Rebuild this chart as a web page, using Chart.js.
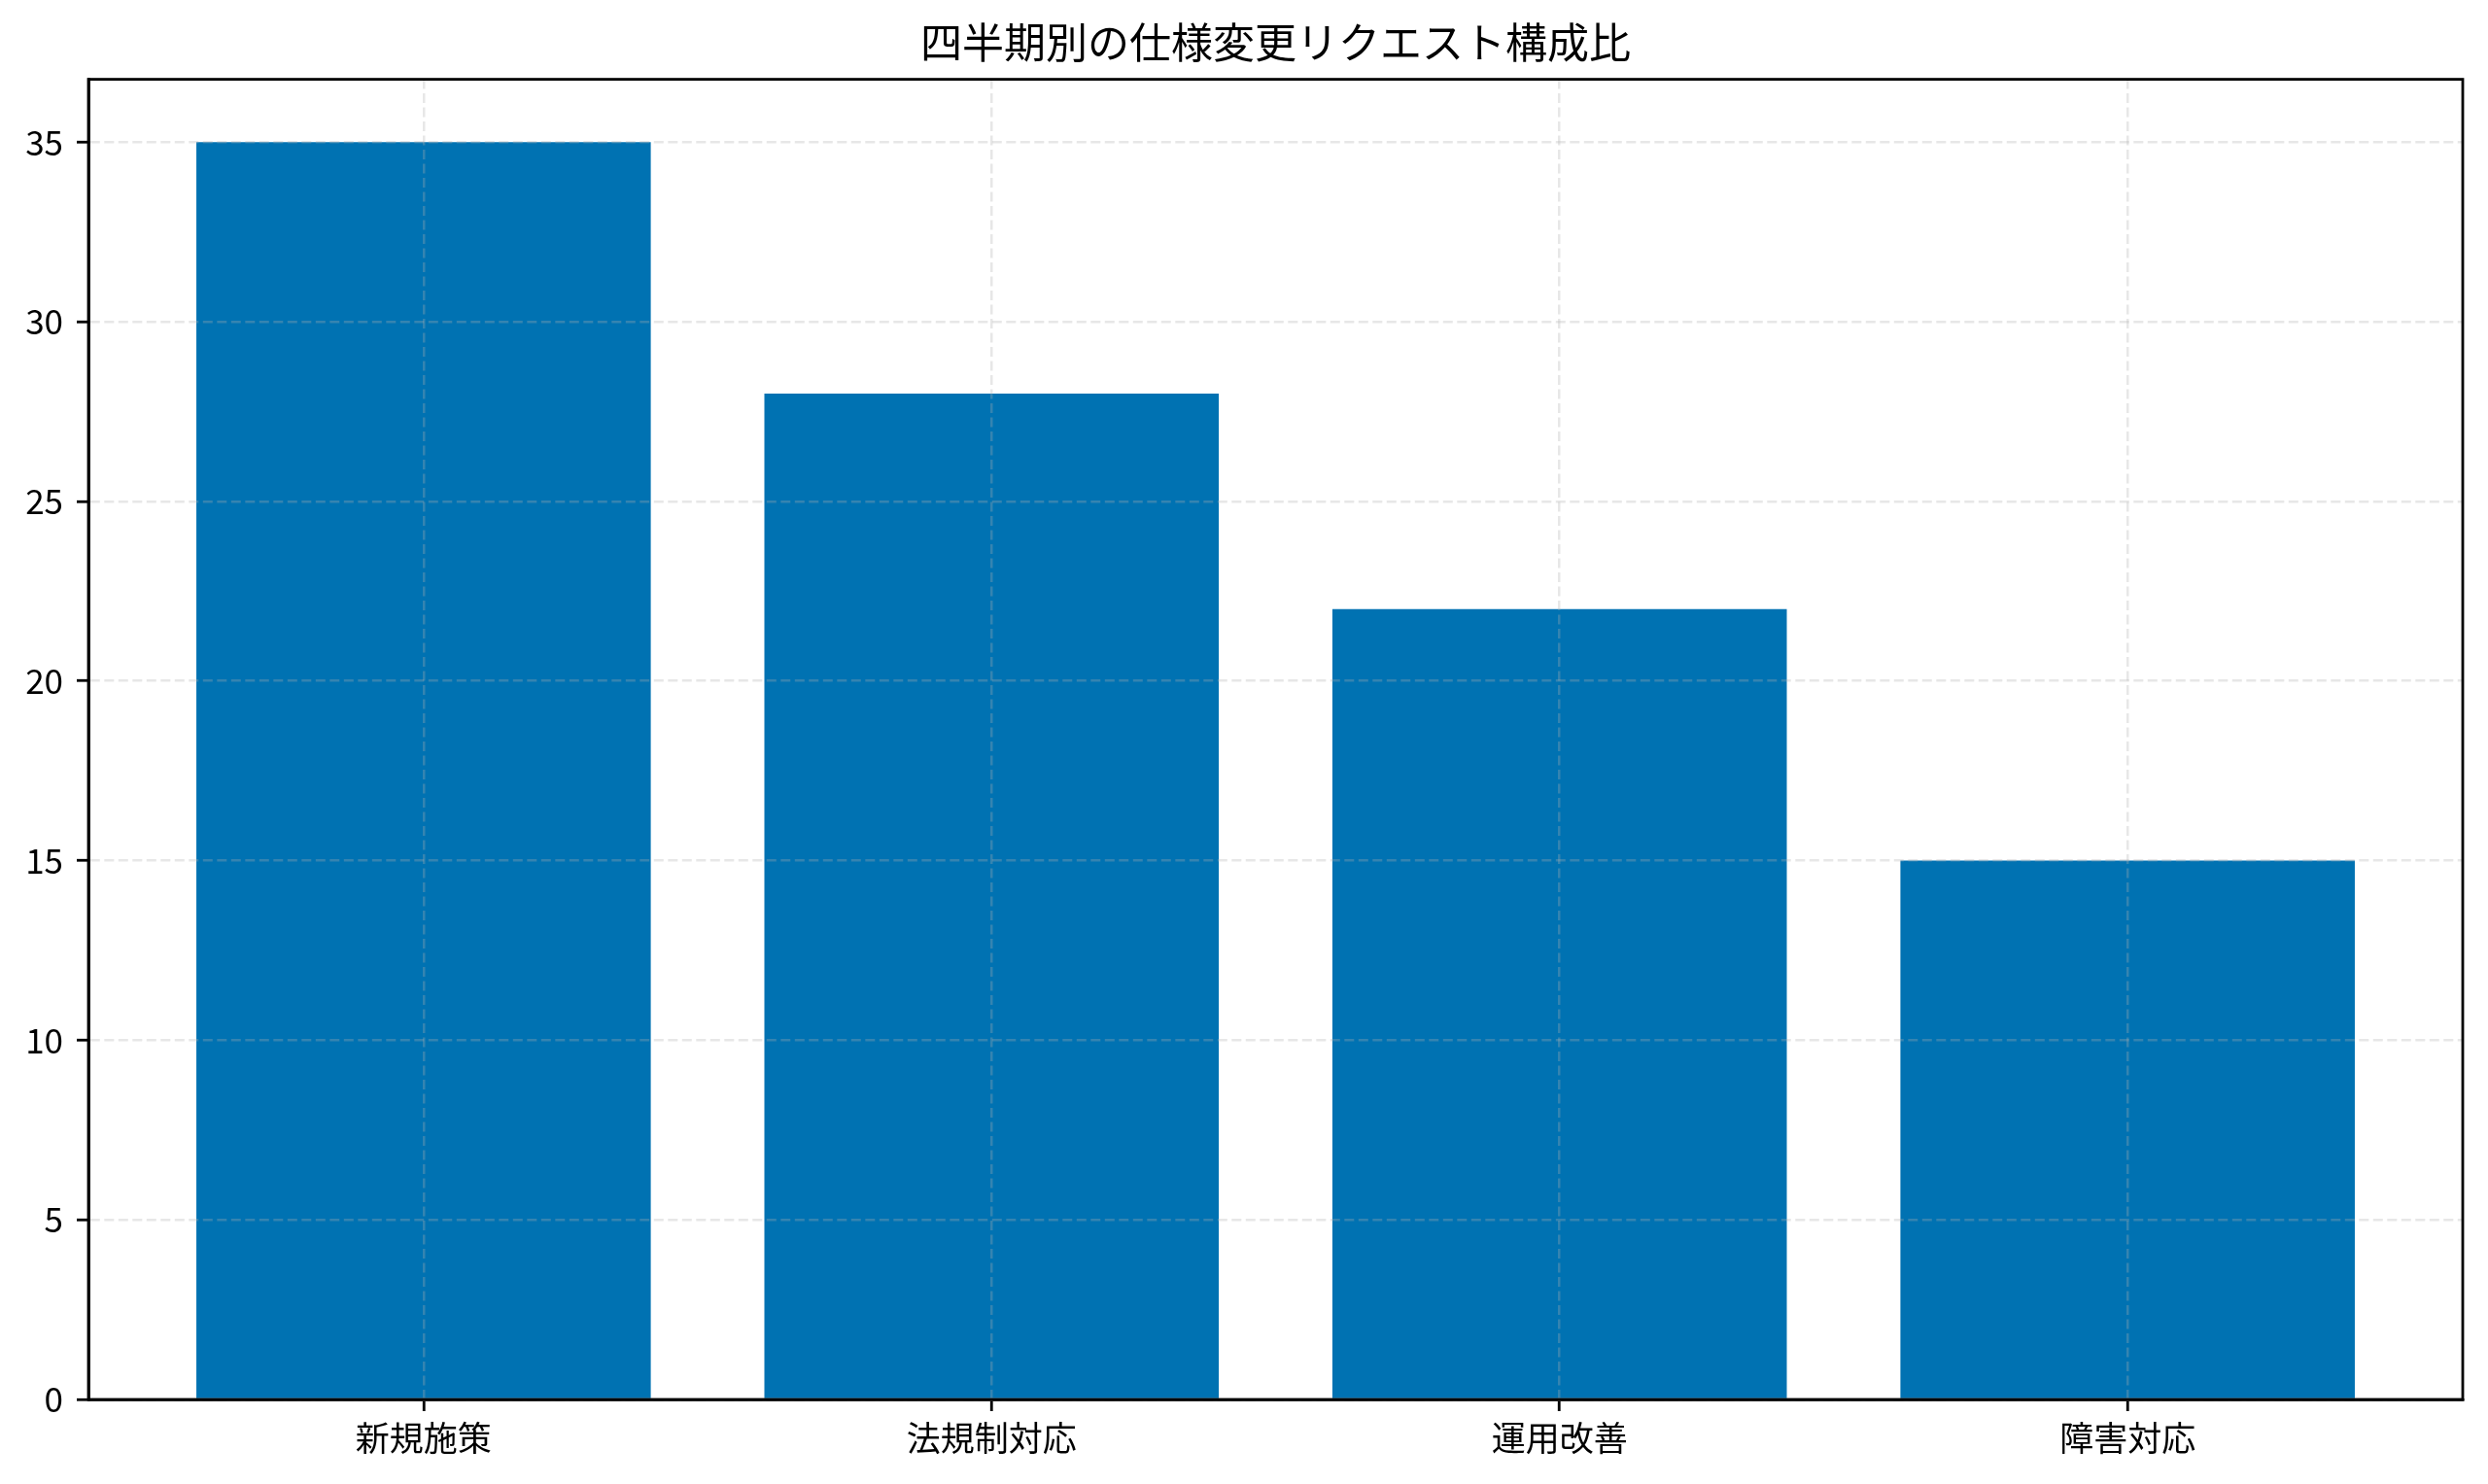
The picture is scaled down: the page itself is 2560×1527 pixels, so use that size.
<!DOCTYPE html>
<html>
<head>
<meta charset="utf-8">
<script src="https://cdn.jsdelivr.net/npm/chart.js@4"></script>
<style>
  html, body { margin: 0; padding: 0; background: #fff; }
  #wrap { width: 2560px; height: 1527px; }
</style>
</head>
<body>
<div id="wrap"><canvas id="chart" width="2560" height="1527"></canvas></div>
<script>
    "use strict";

    // data
    var categories = ["新規施策", "法規制対応", "運用改善", "障害対応"];
    var requests = [35, 28, 22, 15];
    var yTicks = [0, 5, 10, 15, 20, 25, 30, 35];

    var font = "'Noto Sans CJK JP', 'Noto Sans', sans-serif";
    var lw = 2.8;

    // frame round the plot area (top and right too), title centred over the plot
    var frame = {
        id: "frame",
        afterLayout: function (chart) {
            if (chart.titleBlock) {
                chart.titleBlock.left = chart.chartArea.left;
                chart.titleBlock.right = chart.chartArea.right;
            }
        },
        afterDraw: function (chart) {
            var a = chart.chartArea, c = chart.ctx;
            c.save();
            c.strokeStyle = "#000";
            c.lineWidth = lw;
            c.setLineDash([]);
            c.strokeRect(a.left, a.top, a.right - a.left, a.bottom - a.top);
            c.restore();
        }
    };

    var points = categories.map(function (c, i) {
        return { x: i, y: requests[i] };
    });

    var gridLines = {
        z: 1,
        color: "rgba(176,176,176,0.3)",
        lineWidth: 2.5,
        drawTicks: true,
        tickLength: 12,
        tickColor: "#000",
        tickWidth: lw,
        tickBorderDash: []
    };

    var ctx = document.getElementById("chart");
    var myChart = new Chart(ctx, {
        type: 'bar',
        data: {
            datasets: [{
                data: points,
                backgroundColor: "#0072B2",
                borderWidth: 0,
                barPercentage: 0.8,
                categoryPercentage: 1.0
            }]
        },
        options: {
            responsive: false,
            animation: false,
            devicePixelRatio: 1,
            layout: { padding: { left: 0, right: 26, top: 0, bottom: 0 } },
            plugins: {
                legend: { display: false },
                tooltip: { enabled: false },
                title: {
                    display: true,
                    text: "四半期別の仕様変更リクエスト構成比",
                    color: "#000",
                    font: { family: font, size: 43, weight: 'normal', lineHeight: 1.2 },
                    padding: { top: 18, bottom: 12 }
                }
            },
            scales: {
                x: {
                    type: 'linear',
                    min: -0.59,
                    max: 3.59,
                    offset: false,
                    afterBuildTicks: function (scale) {
                        scale.ticks = categories.map(function (c, i) { return { value: i }; });
                    },
                    afterFit: function (scale) { scale.height = 87; },
                    ticks: {
                        autoSkip: false,
                        maxRotation: 0,
                        padding: 7,
                        color: "#000",
                        font: { family: font, size: 35 },
                        callback: function (v) { return categories[v]; }
                    },
                    grid: Object.assign({ offset: false }, gridLines),
                    border: { display: true, color: "#000", width: lw, z: 2, dash: [10, 4.5] }
                },
                y: {
                    min: 0,
                    max: 36.75,
                    afterBuildTicks: function (scale) {
                        scale.ticks = yTicks.map(function (v) { return { value: v }; });
                    },
                    afterFit: function (scale) { scale.width = 91; },
                    ticks: {
                        padding: 14,
                        color: "#000",
                        font: { family: font, size: 35 }
                    },
                    grid: gridLines,
                    border: { display: true, color: "#000", width: lw, z: 2, dash: [10, 4.5] }
                }
            }
        },
        plugins: [frame]
    });
</script>
</body>
</html>
